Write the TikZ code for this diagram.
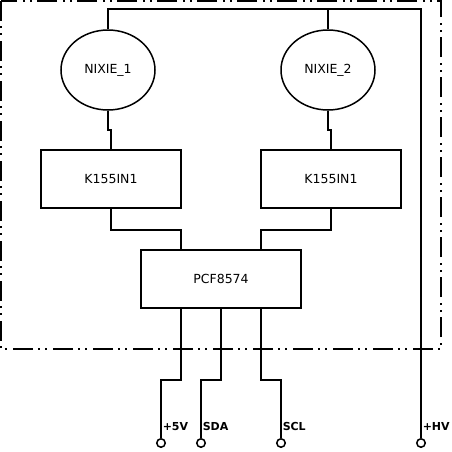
\documentclass[tikz,border=0pt]{standalone}
\usepackage{fontspec}
\newfontfamily\dejavu{DejaVu Sans}
\usetikzlibrary{shapes.geometric}
\begin{document}
\begin{tikzpicture}[x=1pt,y=-1pt,line width=1.5pt,
  wire/.style={draw=black,line width=1.5pt},
  tube/.style={ellipse,draw,minimum width=94pt,minimum height=80pt,inner sep=0pt,font=\dejavu\fontsize{12.5}{14}\selectfont},
  chip/.style={rectangle,draw,minimum height=58pt,inner sep=0pt,font=\dejavu\fontsize{12.5}{14}\selectfont},
  term/.style={circle,draw,fill=white,minimum size=8.5pt,inner sep=0pt,line width=1.5pt},
  pinlabel/.style={anchor=base west,inner sep=0pt,font=\dejavu\bfseries\fontsize{11}{13}\selectfont},
  frame/.style={draw,line width=1.5pt,dash pattern=on 20pt off 5pt on 2pt off 5pt on 2pt off 6pt}]
\useasboundingbox (0,0) rectangle (452,451);
\fill[white] (0,0) rectangle (452,451);
\draw[frame] (1,1) rectangle (441,349);
\node[tube] (nixieA) at (108,70) {NIXIE\_1};
\node[tube] (nixieB) at (328,70) {NIXIE\_2};
\node[chip,minimum width=140pt] (kA) at (111,179) {K155IN1};
\node[chip,minimum width=140pt] (kB) at (331,179) {K155IN1};
\node[chip,minimum width=160pt] (pcf) at (221,279) {PCF8574};
\coordinate (topR) at (421,9);
\node[term] (t5v) at (161,443) {};
\node[term] (tsda) at (201,443) {};
\node[term] (tscl) at (281,443) {};
\node[term] (thv) at (421,443) {};
% top HV bus
\draw[wire] (nixieA.north) |- (topR) -- (thv.north);
\draw[wire] (nixieB.north) -- (nixieB.north |- topR);
% tubes to decoders
\draw[wire] (nixieA.south) -- ++(0,19) -| (kA.north);
\draw[wire] (nixieB.south) -- ++(0,19) -| (kB.north);
% decoders to PCF
\draw[wire] (kA.south) -- ++(0,21) -| ([xshift=-40pt]pcf.north);
\draw[wire] (kB.south) -- ++(0,21) -| ([xshift=40pt]pcf.north);
% PCF to terminals
\draw[wire] ([xshift=-40pt]pcf.south) -- ++(0,71) -| (t5v.north);
\draw[wire] (pcf.south) -- ++(0,71) -| (tsda.north);
\draw[wire] ([xshift=40pt]pcf.south) -- ++(0,71) -| (tscl.north);
% labels
\node[pinlabel] (l5v) at (162,430) {+5V};
\node[pinlabel] (lsda) at (202,430) {SDA};
\node[pinlabel] (lscl) at (282,430) {SCL};
\node[pinlabel] (lhv) at (422,430) {+HV};
\end{tikzpicture}
\end{document}
